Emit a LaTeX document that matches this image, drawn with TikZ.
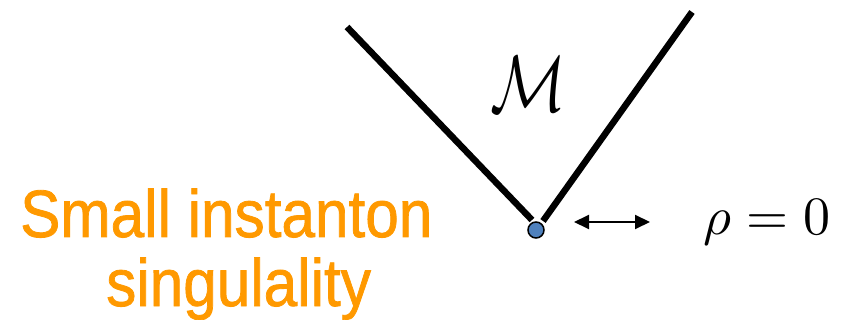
\documentclass[tikz,border=0pt]{standalone}
\usepackage{fontspec}
\newfontfamily\labelfont[FakeBold=1.2]{Liberation Sans}
\usetikzlibrary{arrows.meta}
\definecolor{labelorange}{RGB}{255,153,0}
\definecolor{dotblue}{RGB}{79,129,189}
\tikzset{
  branch/.style={line width=6.5pt, line cap=butt},
  orangelabel/.style={inner sep=0pt, anchor=base west, text=labelorange, font=\labelfont\fontsize{67}{67}\selectfont},
  sizearrow/.style={line width=2pt, {Triangle[length=15pt,width=14pt]}-{Triangle[length=15pt,width=14pt]}},
}
\begin{document}
\begin{tikzpicture}[x=1pt,y=-1pt]
\useasboundingbox (0,0) rectangle (859,320);
\coordinate (ltop) at (347,27);
\coordinate (lbot) at (532,220);
\coordinate (rtop) at (692,12);
\coordinate (rbot) at (543,221);
\draw[branch] (ltop) -- (lbot);
\draw[branch] (rtop) -- (rbot);
\node[circle, draw=black, line width=1.5pt, fill=dotblue, minimum size=16pt, inner sep=0pt] (dot) at (536,230) {};
\coordinate (aL) at (574,222);
\coordinate (aR) at (650,222);
\draw[sizearrow] (aL) -- (aR);
\node[inner sep=0pt, anchor=base west] (rho) at (703,235) {\scalebox{5.4}{$\rho = 0$}};
\node[inner sep=0pt] (M) at (528,84) {\scalebox{6.3}[8.0]{$\mathcal{M}$}};
\node[orangelabel] (l1) at (20,237) {\scalebox{0.9}[1]{Small instanton}};
\node[orangelabel] (l2) at (106,306) {\scalebox{0.9}[1]{singulality}};
\end{tikzpicture}
\end{document}
